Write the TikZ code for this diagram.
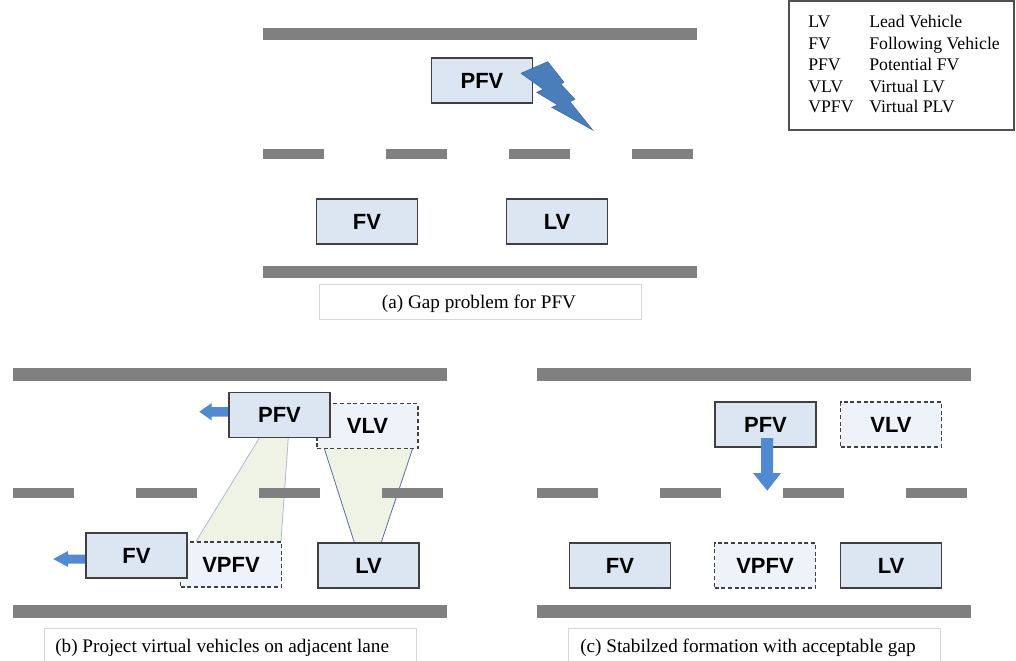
\documentclass[tikz,border=0pt]{standalone}
\usepackage{fontspec}
\setmainfont{Liberation Serif}
\newfontfamily\carfont{Liberation Sans}
\usetikzlibrary{calc}
\pgfdeclarelayer{paper}
\pgfdeclarelayer{projlayer}
\pgfdeclarelayer{roadlayer}
\pgfsetlayers{paper,projlayer,roadlayer,main}
\definecolor{roadgray}{RGB}{128,128,128}
\definecolor{carfill}{RGB}{220,230,242}
\definecolor{carline}{RGB}{64,64,64}
\definecolor{ghostfill}{RGB}{238,242,249}
\definecolor{boltblue}{RGB}{74,126,187}
\definecolor{boltedge}{RGB}{60,104,160}
\definecolor{movearrow}{RGB}{82,138,210}
\definecolor{projfill}{RGB}{239,243,230}
\definecolor{projlight}{RGB}{170,188,210}
\definecolor{projdark}{RGB}{84,112,160}
\definecolor{capline}{RGB}{215,215,215}
\definecolor{legline}{RGB}{80,80,80}
\tikzset{
  car/.style={draw=carline, fill=carfill, line width=1.1pt, minimum width=75.75pt,
    minimum height=33.75pt, inner sep=0pt,
    font=\carfont\bfseries\fontsize{16.5}{18}\selectfont},
  ghost/.style={car, draw=carline, fill=ghostfill, line width=0.8pt,
    dash pattern=on 3pt off 2pt},
  capbox/.style={draw=capline, line width=0.6pt, fill=white, inner sep=0pt},
  captext/.style={inner sep=0pt, font=\fontsize{14.4}{16}\selectfont},
  legtext/.style={inner sep=0pt, anchor=base west, font=\fontsize{13.3}{15}\selectfont},
  road/.style={fill=roadgray},
  blockarrow/.style={fill=movearrow},
}
\begin{document}
\begin{tikzpicture}[x=0.75pt,y=-0.75pt]
\useasboundingbox (0,0) rectangle (1016,660);
\clip (0,0) rectangle (1016,660);
\begin{pgfonlayer}{paper}
\fill[white] (0,0) rectangle (1016,660);
\end{pgfonlayer}

% ---------- roads ----------
\begin{pgfonlayer}{roadlayer}
% (a)
\fill[road] (263,28) rectangle (697,40);
\foreach \xa in {263,386,509,632} \fill[road] (\xa,149) rectangle ++(61,10);
\fill[road] (263,266) rectangle (697,278);
% (b)
\fill[road] (13,368) rectangle (447,381);
\foreach \xa in {13,136,259,382} \fill[road] (\xa,488) rectangle ++(61,10);
\fill[road] (13,605) rectangle (447,618);
% (c)
\fill[road] (537,368) rectangle (971,381);
\foreach \xa in {537,660,783,906} \fill[road] (\xa,488) rectangle ++(61,10);
\fill[road] (537,605) rectangle (971,618);
\end{pgfonlayer}

% ---------- (a) gap problem ----------
\node[car] (pfva) at (482,80.5) {PFV};
\node[car] (fva) at (367,221.5) {FV};
\node[car] (lva) at (557,221.5) {LV};
\fill[boltblue, draw=boltedge, line width=0.4pt]
  (521,73.3) -- (547.7,61.7) -- (564,82.3) -- (560.7,84) -- (575,99.3) -- (570,101.7)
  -- (592.7,130) -- (551.7,107.3) -- (557.7,105) -- (536.7,92.3) -- (543.3,89.3) -- cycle;
\node[capbox, minimum width=241.5pt, minimum height=26.25pt] (capa) at (480,301.5) {};
\node[captext, anchor=base] (capatext) at (479,308) {(a) Gap problem for PFV};

% ---------- (b) projection ----------
\fill[blockarrow] (199.3,411.7) -- (211.7,403) -- (211.7,407) -- (237,407) -- (237,416.5)
  -- (211.7,416.5) -- (211.7,420.5) -- cycle;
\fill[blockarrow] (53.3,559) -- (68,551) -- (68,554.5) -- (92,554.5) -- (92,563.5)
  -- (68,563.5) -- (68,567) -- cycle;
\node[ghost] (vlvb) at (367.5,426) {VLV};
\node[ghost] (vpfvb) at (231,564.5) {VPFV};
\node[car] (pfvb) at (279.5,415) {PFV};
\node[car] (fvb) at (136.5,555.5) {FV};
\node[car] (lvb) at (368.5,565.5) {LV};
\begin{pgfonlayer}{projlayer}
\fill[projfill] ($(pfvb.south west)+(31,0)$) -- ($(pfvb.south west)+(60,0)$)
  -- ($(vpfvb.north west)+(101,0)$) -- ($(vpfvb.north west)+(16,0)$) -- cycle;
\draw[projlight, line width=0.6pt] ($(pfvb.south west)+(31,0)$) -- ($(vpfvb.north west)+(16,0)$);
\draw[projlight, line width=0.6pt] ($(pfvb.south west)+(60,0)$) -- ($(vpfvb.north west)+(101,0)$);
\fill[projfill] ($(vlvb.south west)+(8,0)$) -- ($(vlvb.south west)+(96,0)$)
  -- ($(lvb.north west)+(64,0)$) -- ($(lvb.north west)+(37,0)$) -- cycle;
\draw[projdark, line width=0.6pt] ($(vlvb.south west)+(8,0)$) -- ($(lvb.north west)+(37,0)$);
\draw[projdark, line width=0.6pt] ($(vlvb.south west)+(96,0)$) -- ($(lvb.north west)+(64,0)$);
\end{pgfonlayer}
\node[capbox, minimum width=279pt, minimum height=37.5pt, anchor=north west] (capb) at (44,628) {};
\node[captext, anchor=base west] (capbtext) at (55,652.7) {(b) Project virtual vehicles on adjacent lane};

% ---------- (c) stabilized ----------
\node[ghost] (vlvc) at (891,424.5) {VLV};
\node[ghost] (vpfvc) at (765,565.5) {VPFV};
\node[car] (pfvc) at (765.5,424.5) {PFV};
\node[car] (fvc) at (620,565.5) {FV};
\node[car] (lvc) at (891,565.5) {LV};
\fill[blockarrow] (761,438) -- (773,438) -- (773,473) -- (781,473) -- (767.3,490.7)
  -- (753,473) -- (761,473) -- cycle;
\node[capbox, minimum width=279pt, minimum height=37.5pt, anchor=north west] (capc) at (568,628) {};
\node[captext, anchor=base west] (capctext) at (580,652.7) {(c) Stabilzed formation with acceptable gap};

% ---------- legend ----------
\node[draw=legline, line width=0.8pt, minimum width=168.75pt, minimum height=96.75pt,
  inner sep=0pt] (legend) at (901.5,65.5) {};
\node[legtext] (k1) at (808,28) {LV};
\node[legtext] (d1) at (869,28) {Lead Vehicle};
\node[legtext] (k2) at (808,49.3) {FV};
\node[legtext] (d2) at (869,49.3) {Following Vehicle};
\node[legtext] (k3) at (808,70.6) {PFV};
\node[legtext] (d3) at (869,70.6) {Potential FV};
\node[legtext] (k4) at (808,92) {VLV};
\node[legtext] (d4) at (869,92) {Virtual LV};
\node[legtext] (k5) at (808,113) {VPFV};
\node[legtext] (d5) at (869,113) {Virtual PLV};
\end{tikzpicture}
\end{document}
